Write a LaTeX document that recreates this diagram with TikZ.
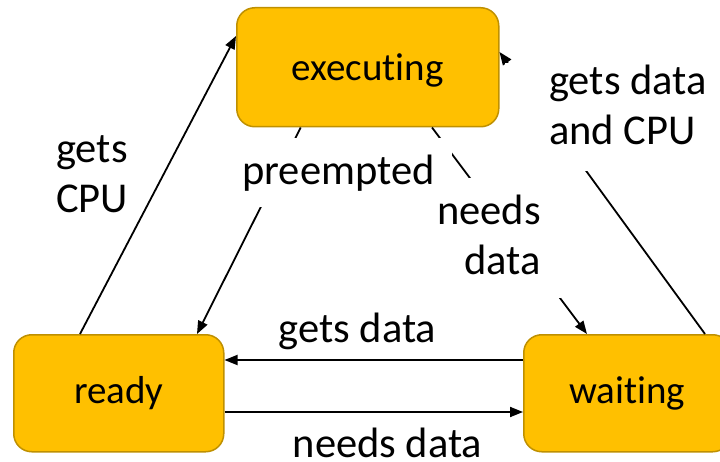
\documentclass[tikz,border=0pt]{standalone}
\usepackage{fontspec}
\setmainfont{Carlito}[Ligatures=NoCommon]
\usetikzlibrary{arrows.meta}
\definecolor{boxfill}{HTML}{FFC000}
\definecolor{boxedge}{HTML}{BF9000}
\begin{document}
\begin{tikzpicture}[x=1pt,y=-1pt,
  statebox/.style={draw=boxedge, fill=boxfill, line width=1.5pt, rounded corners=18pt,
    anchor=north west, inner sep=0pt, font=\fontsize{39}{47}\selectfont, text depth=0pt},
  conn/.style={line width=1.8pt, -{Triangle[length=13pt,width=10pt]}},
  lbl/.style={inner sep=0pt, font=\fontsize{42.5}{50}\selectfont}]
\useasboundingbox (0,0) rectangle (720,462);
% states
\node[statebox, minimum width=262pt, minimum height=119pt, text height=27pt] (exec) at (236,7) {executing};
\node[statebox, minimum width=210pt, minimum height=117pt, text height=21pt] (ready) at (13,334) {ready};
\node[statebox, minimum width=207pt, minimum height=117pt, text height=21pt] (wait) at (523,334) {waiting};
% connectors
\draw[conn] ([xshift=67pt]ready.north west) -- ([yshift=-29pt]exec.north west);
\draw[conn] ([xshift=64.7pt]exec.south west) -- ([xshift=184pt]ready.north west);
\draw[conn] ([xshift=196pt]exec.south west) -- ([xshift=64pt]wait.north west);
\draw[conn] ([xshift=182pt]wait.north west) -- ([yshift=-45pt]exec.north east);
\draw[conn] ([yshift=-26pt]wait.north west) -- ([yshift=-26pt]ready.north east);
\draw[conn] ([yshift=-78pt]ready.north east) -- ([yshift=-78pt]wait.north west);
% label backgrounds (hide the connectors behind the text boxes)
\fill[white] (238,138) rectangle (452,207);
\fill[white] (440,178) rectangle (561,298);
\fill[white] (505,63) rectangle (720,171);
% labels (base anchor of a multi-line node = last line)
\node[lbl, anchor=base west, align=left] (lgc) at (56,213) {gets\\CPU};
\node[lbl, anchor=base] (lpre) at (338.5,185) {preempted};
\node[lbl, anchor=base east, align=right] (lnd) at (541,275) {needs\\data};
\node[lbl, anchor=base west, align=left] (lgdc) at (549,145) {gets data\\and CPU};
\node[lbl, anchor=base] (lgd) at (357.5,342) {gets data};
\node[lbl, anchor=base] (lnd2) at (387.5,457) {needs data};
\end{tikzpicture}
\end{document}
